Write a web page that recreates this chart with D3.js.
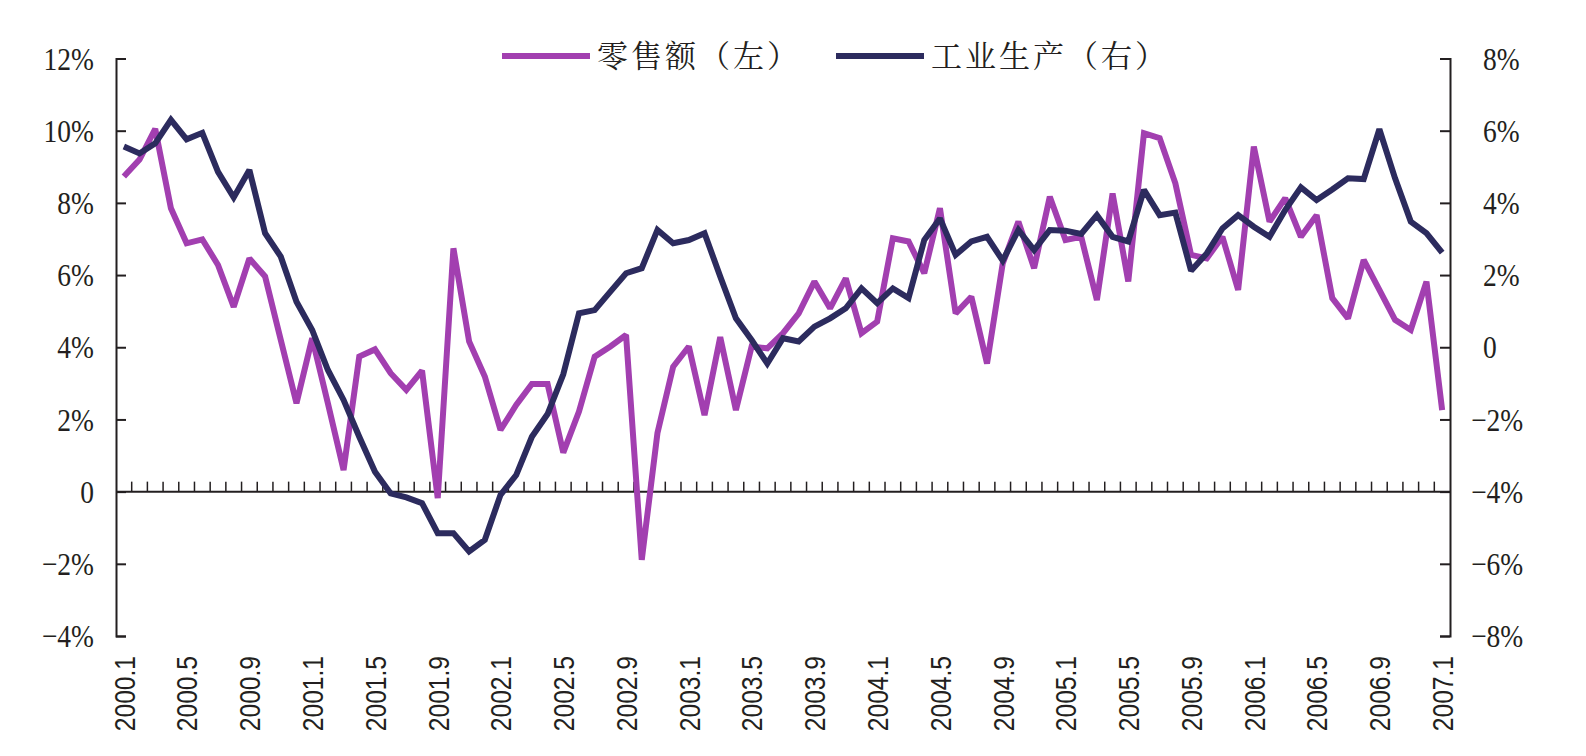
<!DOCTYPE html>
<html>
<head>
<meta charset="utf-8">
<title>零售额与工业生产</title>
<script src="https://cdn.jsdelivr.net/npm/d3@7"></script>
<style>
    body { margin: 0; background: #fff; }
    #chart { width: 1586px; height: 756px; }
</style>
</head>
<body>
<div id="chart"></div>
<script>
// 零售额（左轴）, 月度, 2000.1 - 2007.1
const retail = [
    8.73, 9.20, 10.05, 7.85, 6.88, 6.99, 6.28, 5.12, 6.46, 5.96, 4.20, 2.45,
    4.25, 2.45, 0.60, 3.74, 3.94, 3.28, 2.82, 3.35, -0.18, 6.74, 4.16, 3.19,
    1.71, 2.40, 2.98, 2.98, 1.08, 2.22, 3.74, 4.02, 4.34, -1.89, 1.62, 3.46,
    4.02, 2.12, 4.28, 2.26, 4.02, 3.97, 4.39, 4.94, 5.82, 5.08, 5.91, 4.39,
    4.71, 7.02, 6.93, 6.05, 7.85, 4.94, 5.40, 3.55, 6.32, 7.48, 6.19, 8.17,
    6.97, 7.06, 5.31, 8.26, 5.82, 9.93, 9.79, 8.54, 6.56, 6.46, 7.06, 5.59,
    9.56, 7.48, 8.13, 7.06, 7.66, 5.36, 4.80, 6.42, 5.59, 4.76, 4.48, 5.82,
    2.26
];
// 工业生产（右轴）
const industry = [
    5.56, 5.37, 5.65, 6.30, 5.76, 5.94, 4.86, 4.15, 4.91, 3.16, 2.51, 1.26,
    0.48, -0.63, -1.46, -2.48, -3.45, -4.05, -4.16, -4.32, -5.15, -5.15, -5.66, -5.34,
    -4.09, -3.54, -2.48, -1.85, -0.75, 0.94, 1.03, 1.54, 2.05, 2.19, 3.25, 2.88,
    2.97, 3.16, 1.96, 0.80, 0.20, -0.45, 0.25, 0.16, 0.57, 0.80, 1.08, 1.63,
    1.22, 1.63, 1.36, 2.97, 3.57, 2.56, 2.93, 3.06, 2.40, 3.25, 2.69, 3.25,
    3.23, 3.14, 3.66, 3.06, 2.93, 4.36, 3.66, 3.73, 2.12, 2.60, 3.29, 3.66,
    3.34, 3.06, 3.80, 4.43, 4.08, 4.37, 4.68, 4.66, 6.04, 4.68, 3.48, 3.16,
    2.62
];
// 月份类别
const months = [];
for (let y = 2000; y <= 2007; y++) {
    for (let m = 1; m <= 12; m++) {
        if (months.length < retail.length) months.push(y + "." + m);
    }
}
const xTickLabels = ["2000.1", "2000.5", "2000.9", "2001.1", "2001.5", "2001.9", "2002.1", "2002.5",
    "2002.9", "2003.1", "2003.5", "2003.9", "2004.1", "2004.5", "2004.9", "2005.1", "2005.5",
    "2005.9", "2006.1", "2006.5", "2006.9", "2007.1"];
const leftTicks = [-4, -2, 0, 2, 4, 6, 8, 10, 12];
const rightTicks = [-8, -6, -4, -2, 0, 2, 4, 6, 8];
const seriesNames = ["零售额（左）", "工业生产（右）"];
const colors = ["#a23fb0", "#2c2b5e"];

class DualAxisLine {
    constructor(wrapper, width = 1586, height = 756) {
        this.wrapper = wrapper;
        this.width = width;
        this.height = height;
        this.left = 116;
        this.right = 1450;
        this.top = 58.5;
        this.bottom = 636;
        this.initChart();
    }
    initChart() {
        this.svg = d3.select(this.wrapper).append("svg")
            .attr("width", this.width)
            .attr("height", this.height)
            .attr("viewBox", "0 0 " + this.width + " " + this.height);
        this.x = d3.scaleBand().domain(months).range([this.left, this.right]);
        this.yL = d3.scaleLinear().domain([-4, 12]).range([this.bottom, this.top]);
        this.yR = d3.scaleLinear().domain([-8, 8]).range([this.bottom, this.top]);
        this.drawAxes();
        this.drawChart();
        this.drawLegend();
    }
    cx(m) {
        return this.x(m) + this.x.bandwidth() / 2;
    }
    drawAxes() {
        const svg = this.svg, x = this.x, yL = this.yL, yR = this.yR;
        const fmt = v => v === 0 ? "0" : (v < 0 ? "\u2212" + (-v) : v) + "%";
        const serif = "'Liberation Serif', 'Times New Roman', serif";

        // 左轴: 刻度朝内
        svg.append("g")
            .attr("transform", "translate(" + this.left + ",0)")
            .call(d3.axisRight(yL).tickValues(leftTicks).tickSize(10).tickFormat(""))
            .call(g => g.selectAll("line, path").attr("stroke", "#231f20").attr("stroke-width", 2));
        // 右轴
        svg.append("g")
            .attr("transform", "translate(" + this.right + ",0)")
            .call(d3.axisLeft(yR).tickValues(rightTicks).tickSize(10).tickFormat(""))
            .call(g => g.selectAll("line, path").attr("stroke", "#231f20").attr("stroke-width", 2));

        svg.append("g").selectAll("text")
            .data(leftTicks)
            .join("text")
            .attr("transform", d => "translate(94," + yL(d) + ") scale(0.86,1)")
            .attr("dy", "0.35em")
            .attr("text-anchor", "end")
            .attr("font-family", serif)
            .attr("font-size", 32)
            .attr("fill", "#231f20")
            .text(fmt);

        svg.append("g").selectAll("text")
            .data(rightTicks)
            .join("text")
            .attr("transform", d => "translate(" + (d < 0 ? 1471 : 1483) + "," + yR(d) + ") scale(0.86,1)")
            .attr("dy", "0.35em")
            .attr("font-family", serif)
            .attr("font-size", 32)
            .attr("fill", "#231f20")
            .text(fmt);

        // 零轴线与类别刻度
        const y0 = yL(0);
        svg.append("line")
            .attr("x1", this.left).attr("x2", this.right)
            .attr("y1", y0).attr("y2", y0)
            .attr("stroke", "#231f20").attr("stroke-width", 2);
        svg.append("g").selectAll("line")
            .data(months.slice(1))
            .join("line")
            .attr("x1", d => x(d)).attr("x2", d => x(d))
            .attr("y1", y0).attr("y2", y0 - 10)
            .attr("stroke", "#231f20").attr("stroke-width", 1.5);

        // 类别标签, 竖排
        svg.append("g").selectAll("text")
            .data(xTickLabels)
            .join("text")
            .attr("transform", d => "translate(" + this.cx(d) + ",656) rotate(-90) scale(0.82,1)")
            .attr("dy", "0.36em")
            .attr("text-anchor", "end")
            .attr("font-family", "'Liberation Sans', Arial, sans-serif")
            .attr("font-size", 30)
            .attr("fill", "#231f20")
            .text(d => d);
    }
    drawChart() {
        const lineL = d3.line().x((d, i) => this.cx(months[i])).y(d => this.yL(d));
        const lineR = d3.line().x((d, i) => this.cx(months[i])).y(d => this.yR(d));
        this.svg.append("path")
            .datum(retail)
            .attr("d", lineL)
            .attr("fill", "none")
            .attr("stroke", colors[0])
            .attr("stroke-width", 6)
            .attr("stroke-miterlimit", 2);
        this.svg.append("path")
            .datum(industry)
            .attr("d", lineR)
            .attr("fill", "none")
            .attr("stroke", colors[1])
            .attr("stroke-width", 6)
            .attr("stroke-miterlimit", 2);
    }
    drawLegend() {
        const items = [
            { name: seriesNames[0], color: colors[0], x: 502 },
            { name: seriesNames[1], color: colors[1], x: 836 }
        ];
        const g = this.svg.append("g").selectAll("g")
            .data(items)
            .join("g")
            .attr("transform", d => "translate(" + d.x + ",56)");
        g.append("line")
            .attr("x1", 0).attr("x2", 88)
            .attr("stroke", d => d.color)
            .attr("stroke-width", 6);
        g.append("text")
            .attr("x", 95)
            .attr("dy", "0.36em")
            .attr("font-family", "'Noto Serif CJK SC', 'Noto Sans CJK SC', serif")
            .attr("font-size", 31)
            .attr("letter-spacing", 3)
            .attr("fill", "#231f20")
            .text(d => d.name);
    }
}

new DualAxisLine(document.getElementById("chart"));
</script>
</body>
</html>
